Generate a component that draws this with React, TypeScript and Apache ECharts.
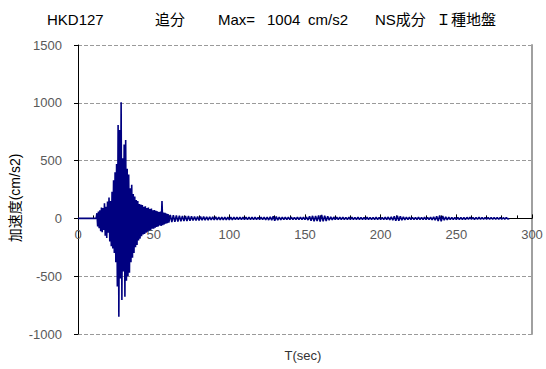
import React, { useEffect, useRef } from "react";
import * as echarts from "echarts";

// Title pieces
const titleParts = ["HKD127", "追分", "Max=", "1004", "cm/s2", "NS成分", "Ｉ種地盤"];
const yAxisName = "加速度(cm/s2)";
const xAxisName = "T(sec)";

// Axis ranges / ticks
const xTicks = [0, 50, 100, 150, 200, 250, 300];
const yTicks = [-1000, -500, 0, 500, 1000, 1500];

// Quiet lead-in (time, value)
const leadTimes = [0, 12];
const leadValues = [0, 0];

// Strong-motion part, sampled every 0.5 s starting at 12.0 s (cm/s2)
const strongStart = 12.0;
const strongStep = 0.5;
const strongValues = [
  0, 45, -70, 60, -85, 70, -110, 95, -120, 90,
  -100, 130, -150, 100, -170, 145, -125, 180, -200, 150,
  -240, 230, -260, 330, -300, 400, -380, 470, -590, 808,
  -850, 765, -520, 1004, -706, 520, -460, 640, -677, 678,
  -540, 430, -500, 380, -470, 260, -380, 290, -340, 210,
  -300, 190, -250, 160, -230, 150, -190, 125, -175, 120,
  -155, 115, -140, 100, -135, 105, -125, 90, -115, 95,
  -105, 80, -100, 85, -90, 70, -90, 72, -80, 65,
  -75, 62, -70, 55, -62, 60, -65, 150, -58, 50,
  -52, 48, -46, 42, -42, 38, -36,
];

// Tail, sampled every 1 s starting at 61 s (cm/s2)
const tailStart = 61;
const tailStep = 1;
const tailValues = [
  30, -32, 28, -29, 26, -27, 24, -25, 22, -23,
  21, -22, 20, -20, 18, -19, 17, -18, 16, -17,
  15, -16, 15, -15, 14, -15, 14, -14, 13, -14,
  13, -13, 12, -13, 12, -12, 12, -12, 11, -12,
  11, -12, 11, -11, 10, -11, 11, -10, 10, -11,
  10, -10, 11, -10, 10, -11, 10, -10, 9, -10,
  10, -10, 11, -12, 12, -14, 13, -15, 18, -20,
  16, -15, 12, -12, 11, -10, 10, -11, 10, -10,
  10, -10, 9, -10, 10, -10, 11, -10, 10, -11,
  12, -14, 18, -20, 22, -25, 20, -22, 26, -28,
  30, -26, 24, -22, 18, -16, 14, -13, 12, -11,
  10, -10, 10, -9, 10, -10, 9, -10, 10, -9,
  10, -10, 9, -9, 10, -10, 9, -10, 9, -9,
  10, -10, 9, -10, 9, -9, 10, -9, 9, -10,
  9, -9, 10, -10, 12, -13, 14, -16, 18, -20,
  22, -20, 18, -16, 14, -12, 11, -10, 10, -9,
  9, -10, 9, -9, 10, -9, 9, -9, 10, -9,
  9, -10, 10, -12, 14, -16, 18, -22, 26, -24,
  20, -16, 14, -12, 10, -10, 9, -9, 9, -10,
  9, -9, 9, -9, 8, -9, 9, -8, 9, -8,
  8, -9, 8, -8, 9, -8, 8, -8, 8, -8,
  8, -8, 7, -8, 8, -7, 7, -7, 7, -7,
  6, -6, 6, -5, 0,
];

function buildData(): [number, number][] {
  const d: [number, number][] = [];
  leadTimes.forEach((t, i) => d.push([t, leadValues[i]]));
  strongValues.forEach((v, i) => d.push([strongStart + i * strongStep, v]));
  tailValues.forEach((v, i) => d.push([tailStart + i * tailStep, v]));
  return d;
}

const titleX = [47, 155, 218, 267, 308, 375, 436];

// layout
const GRID_TOP = 45;
const GRID_BOTTOM_PX = 334;
const H = 369;

export default function App() {
  const ref = useRef<HTMLDivElement>(null);
  useEffect(() => {
    if (!ref.current) return;
    const chart = echarts.init(ref.current, null, { renderer: "svg" });
    const labelColor = "#595959";
    const font = "'Liberation Sans', Arial, 'Noto Sans CJK JP', sans-serif";
    const yMin = yTicks[0];
    const yMax = yTicks[yTicks.length - 1];
    // pixel position of the zero line, so the x axis (line, ticks, labels) sits on it
    const zeroPx = GRID_TOP + ((GRID_BOTTOM_PX - GRID_TOP) * yMax) / (yMax - yMin);
    const xOffset = zeroPx - GRID_BOTTOM_PX;
    chart.setOption({
      animation: false,
      backgroundColor: "#ffffff",
      textStyle: { fontFamily: font },
      grid: { left: 78, right: 14, top: GRID_TOP, bottom: H - GRID_BOTTOM_PX, containLabel: false },
      xAxis: {
        type: "value",
        position: "bottom",
        offset: xOffset,
        min: xTicks[0],
        max: xTicks[xTicks.length - 1],
        interval: 50,
        axisLine: { show: true, onZero: false, lineStyle: { color: "#000000", width: 1 } },
        axisTick: { show: true, inside: true, length: 4, lineStyle: { color: "#000000" } },
        minorTick: { show: true, splitNumber: 5, length: 3, lineStyle: { color: "#000000" } },
        axisLabel: { color: labelColor, fontSize: 13, margin: 10, fontFamily: font },
        splitLine: { show: false },
        z: 1,
      },
      yAxis: [
        {
          type: "value",
          min: yMin,
          max: yMax,
          interval: 500,
          axisLine: { show: true, onZero: false, lineStyle: { color: "#000000", width: 1 } },
          axisTick: { show: true, inside: false, length: 4, lineStyle: { color: "#000000" } },
          axisLabel: {
            color: labelColor,
            fontSize: 13,
            margin: 16,
            fontFamily: font,
            formatter: (v: number) => String(v),
          },
          splitLine: {
            show: true,
            showMinLine: true,
            showMaxLine: true,
            lineStyle: { color: "#9a9a9a", type: [4, 2], width: 1 },
          },
        },
        {
          type: "value",
          position: "right",
          min: yMin,
          max: yMax,
          interval: 500,
          axisLine: { show: true, onZero: false, lineStyle: { color: "#a0a0a0", width: 2 } },
          axisTick: { show: false },
          axisLabel: { show: false },
          splitLine: { show: false },
        },
      ],
      graphic: [
        ...titleParts.map((t, i) => ({
          type: "text",
          left: titleX[i],
          top: 12,
          style: { text: t, fontSize: 15, fill: "#000000", fontFamily: font },
        })),
        {
          type: "text",
          x: 15,
          y: 198,
          rotation: Math.PI / 2,
          style: {
            text: yAxisName,
            fontSize: 14,
            fill: "#000000",
            align: "center",
            verticalAlign: "middle",
            fontFamily: font,
          },
        },
        {
          type: "text",
          x: 303,
          y: 355,
          style: {
            text: xAxisName,
            fontSize: 13,
            fill: "#333333",
            align: "center",
            verticalAlign: "middle",
            fontFamily: font,
          },
        },
      ],
      series: [
        {
          type: "line",
          data: buildData(),
          showSymbol: false,
          symbol: "none",
          lineStyle: { color: "#000080", width: 1.6 },
          xAxisIndex: 0,
          yAxisIndex: 0,
          z: 5,
        },
      ],
    });
    return () => chart.dispose();
  }, []);
  return <div ref={ref} style={{ width: 546, height: 369, position: "absolute", left: 0, top: 0 }} />;
}
